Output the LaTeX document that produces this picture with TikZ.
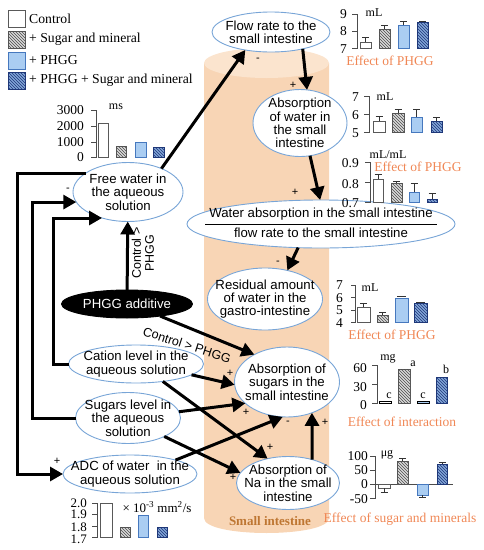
\documentclass[tikz,border=0pt]{standalone}
\usepackage{fontspec}
\setmainfont{Liberation Serif}
\setsansfont{Liberation Sans}
\usetikzlibrary{arrows.meta,patterns,shapes.geometric}
\definecolor{bubline}{RGB}{120,165,215}
\definecolor{cylbody}{RGB}{248,213,181}
\definecolor{cyltop}{RGB}{251,228,206}
\definecolor{effcol}{RGB}{240,135,85}
\definecolor{sicol}{RGB}{190,118,50}
\definecolor{phfill}{RGB}{170,205,242}
\definecolor{phedge}{RGB}{70,120,190}
\definecolor{phsfill}{RGB}{130,165,215}
\definecolor{phsline}{RGB}{30,55,120}
\setlength{\arrayrulewidth}{0.9pt}
\renewcommand{\arraystretch}{1.4}
\tikzset{
    bub/.style={ellipse, draw=bubline, line width=0.9pt, fill=white,
    	inner sep=-20pt, outer sep=0pt, align=center,
    	font=\sffamily\fontsize{13.2}{13.4}\selectfont}
}
\tikzset{
    blackbub/.style={bub, draw=black, fill=black, text=white}
}
\tikzset{
    conn/.style={line width=3pt, -{Triangle[length=13pt,width=14pt]}}
}
\tikzset{
    sign/.style={font=\sffamily\fontsize{11}{11}\selectfont, inner sep=0pt},
    ticklab/.style={anchor=east, inner sep=0pt, font=\fontsize{13.5}{13.5}\selectfont},
    unit/.style={inner sep=0pt, font=\fontsize{12}{12}\selectfont},
    effect/.style={inner sep=0pt, text=effcol, font=\fontsize{13.5}{13.5}\selectfont},
    legtext/.style={anchor=west, inner sep=0pt, font=\fontsize{13.7}{13.7}\selectfont},
    axisline/.style={draw=gray!60!black, line width=0.7pt},
    errbar/.style={draw=gray!40!black, line width=0.7pt},
    ctrlbar/.style={draw=gray!70!black, line width=0.7pt, fill=white},
    sugbar/.style={draw=gray!70!black, line width=0.7pt, fill=gray!30,
    	postaction={pattern=north west lines, pattern color=gray!60!black}},
    phbar/.style={draw=phedge, line width=0.7pt, fill=phfill},
    phsbar/.style={draw=phsline, line width=0.7pt, fill=phsfill,
    	postaction={pattern=north west lines, pattern color=phsline}}
}

\begin{document}
\begin{tikzpicture}[x=1pt, y=-1pt]
	\useasboundingbox (0,0) rectangle (484,550);
	% small intestine
	\fill[cylbody] (204,63) -- (204,518) .. controls (204,538) and (329,538) .. (329,518) -- (329,63) -- cycle;
	\fill[cyltop] (266.5,63) ellipse [x radius=62.5, y radius=15];
	\node (si) [inner sep=0pt, text=sicol, font=\bfseries\fontsize{13}{13}\selectfont] at (270,521) {Small intestine};

	% legend
	\draw[ctrlbar] (8,10) rectangle (25,27); \node (lctrl) [legtext] at (29,18.5) {Control};
	\draw[sugbar] (8,31) rectangle (25,48); \node (lsug) [legtext] at (29,39.5) {+ Sugar and mineral};
	\draw[phbar] (8,52) rectangle (25,69); \node (lph) [legtext] at (29,60.5) {+ PHGG};
	\draw[phsbar] (8,72) rectangle (25,89); \node (lphs) [legtext] at (29,80.5) {+ PHGG + Sugar and mineral};

	% nodes
	\node (fw) [bub, minimum width=110pt, minimum height=59pt] at (128,192) {Free water in\\the aqueous\\solution};
	\node (ph) [blackbub, minimum width=131pt, minimum height=28pt] at (127,304) {PHGG additive};
	\node (flow) [bub, minimum width=118pt, minimum height=40pt] at (271,32) {Flow rate to the\\small intestine};
	\node (aw) [bub, minimum width=94pt, minimum height=67pt] at (300,123) {Absorption\\of water in\\the small\\intestine};
	\node (rat) [bub, minimum width=268pt, minimum height=48pt, inner xsep=-30pt] at (321,224) {\begin{tabular}{@{\hspace{4pt}}c@{\hspace{4pt}}}Water absorption in the small intestine\\\hline flow rate to the small intestine\end{tabular}};
	\node (res) [bub, minimum width=115pt, minimum height=62pt] at (265,299) {Residual amount\\of water in the\\gastro-intestine};
	\node (sabs) [bub, minimum width=105pt, minimum height=70pt] at (287,382) {Absorption of\\sugars in the\\small intestine};
	\node (na) [bub, minimum width=103pt, minimum height=53pt] at (288,483) {Absorption of\\Na in the small\\intestine};
	\node (cat) [bub, minimum width=135pt, minimum height=38pt] at (136,364) {Cation level in the\\aqueous solution};
	\node (slv) [bub, minimum width=105pt, minimum height=51pt] at (128,418) {Sugars level in\\the aqueous\\solution};
	\node (adc) [bub, minimum width=134pt, minimum height=38pt] at (130,474) {ADC of water\ \ in the\\aqueous solution};

	% connectors
	\draw[conn] (fw.35) -- (flow.215);
	\draw[conn] (flow.-28) -- (aw.78);
	\draw[conn] (aw.-73) -- (rat.92);
	\draw[conn] (rat.-134) -- (res.52);
	\draw[conn] (ph) -- (fw);
	\draw[conn] (ph.-20) -- (sabs.140);
	\draw[conn] (cat.-11) -- (sabs.183);
	\draw[conn] (cat.-33) -- (na.130);
	\draw[conn] (slv.7) -- (sabs.207);
	\draw[conn] (slv.-27) -- (na.168);
	\draw[conn] (adc.17) -- (sabs.263);
	\draw[conn] (na.44) -- (sabs.-51);
	\draw[conn] (fw.156) -- ++(-68,0) |- (adc.west);
	\draw[conn] (slv.west) -- ++(-43.5,0) |- (fw.191);
	\draw[conn] (cat.west) -- ++(-15.5,0) |- (fw.225);

	\node (ctl1) [align=center, rotate=90, inner sep=0pt, font=\sffamily\fontsize{12.5}{13}\selectfont] at (143,253) {Control >\\PHGG};
	\node (ctl2) [rotate=-18, inner sep=0pt, font=\sffamily\fontsize{12.5}{13}\selectfont] at (187,345) {Control > PHGG};

	% signs
	\node (s1) [sign] at (258,60) {-};
	\node (s2) [sign] at (293,85) {+};
	\node (s3) [sign] at (295,192) {+};
	\node (s4) [sign] at (278,263) {-};
	\node (s5) [sign] at (68,190) {-};
	\node (s6) [sign] at (93,222) {-};
	\node (s7) [sign] at (57,461) {+};
	\node (s8) [sign] at (230,373) {+};
	\node (s9) [sign] at (246,412) {+};
	\node (s10) [sign] at (288,423) {-};
	\node (s11) [sign] at (270,447) {+};
	\node (s12) [sign] at (233,477) {+};
	\node (s13) [sign] at (325,422) {+};

	% chart: free water
	\node (aunit) [unit] at (116,107) {ms};
	\node (a3000) [ticklab] at (84,110) {3000};
	\node (a2000) [ticklab] at (84,126) {2000};
	\node (a1000) [ticklab] at (84,142) {1000};
	\node (a0) [ticklab] at (84,157) {0};
	\draw[axisline] (91,110) -- (96,110) -- (96,157) -- (91,157) (91,126) -- (96,126) (91,142) -- (96,142);
	\draw[ctrlbar] (98,157) rectangle (108,123);
	\draw[sugbar] (116,157) rectangle (126,146);
	\draw[phbar] (135,157) rectangle (146,142);
	\draw[phsbar] (153,157) rectangle (164,147);

	% chart: flow rate
	\node (bunit) [unit] at (374,13) {mL};
	\node (b9) [ticklab] at (347,14) {9};
	\node (b8) [ticklab] at (347,31.5) {8};
	\node (b7) [ticklab] at (347,49) {7};
	\draw[axisline] (352,14) -- (357,14) -- (357,48) -- (352,48) (352,31) -- (357,31);
	\draw[ctrlbar] (360,48) rectangle (371,42); \draw[errbar] (365.5,42) -- (365.5,37) (362,37) -- (369,37);
	\draw[sugbar] (379,48) rectangle (390,29); \draw[errbar] (384.5,29) -- (384.5,25) (381,25) -- (388,25);
	\draw[phbar] (398,48) rectangle (409,25); \draw[errbar] (403.5,25) -- (403.5,21) (400,21) -- (407,21);
	\draw[phsbar] (417,48) rectangle (428,22); \draw[errbar] (419,21.5) -- (426,21.5);
	\node (beff) [effect] at (390,61) {Effect of PHGG};

	% chart: absorption of water
	\node (cunit) [unit] at (385,97) {mL};
	\node (c7) [ticklab] at (359,97) {7};
	\node (c6) [ticklab] at (359,115) {6};
	\node (c5) [ticklab] at (359,133) {5};
	\draw[axisline] (364,96) -- (369,96) -- (369,132) -- (364,132) (364,114) -- (369,114);
	\draw[ctrlbar] (373,132) rectangle (385,121); \draw[errbar] (379,121) -- (379,116) (375.5,116) -- (382.5,116);
	\draw[sugbar] (392,132) rectangle (404,113); \draw[errbar] (398,113) -- (398,109) (394.5,109) -- (401.5,109);
	\draw[phbar] (411,132) rectangle (422,117); \draw[errbar] (416.5,117) -- (416.5,109) (413,109) -- (420,109);
	\draw[phsbar] (431,132) rectangle (442,121); \draw[errbar] (436.5,121) -- (436.5,117) (433,117) -- (440,117);

	% chart: ratio
	\node (dunit) [unit] at (388,155) {mL/mL};
	\node (deff) [effect] at (418,167) {Effect of PHGG};
	\node (d9) [ticklab] at (359,163) {0.9};
	\node (d8) [ticklab] at (359,184) {0.8};
	\node (d7) [ticklab] at (359,203) {0.7};
	\draw[axisline] (365,162) -- (370,162) -- (370,202) -- (365,202) (365,182) -- (370,182);
	\draw[ctrlbar] (373,202) rectangle (383,179); \draw[errbar] (378,179) -- (378,174) (374.5,174) -- (381.5,174);
	\draw[sugbar] (391,202) rectangle (402,183); \draw[errbar] (396.5,183) -- (396.5,181) (393,181) -- (400,181);
	\draw[phbar] (409,202) rectangle (419,192); \draw[errbar] (414,192) -- (414,183) (410.5,183) -- (417.5,183);
	\draw[phsbar] (427,202) rectangle (437,199); \draw[errbar] (432,199) -- (432,193) (428.5,193) -- (435.5,193);

	% chart: residual water
	\node (eunit) [unit] at (370,288) {mL};
	\node (e7) [ticklab] at (343,285) {7};
	\node (e6) [ticklab] at (343,298) {6};
	\node (e5) [ticklab] at (343,310) {5};
	\node (e4) [ticklab] at (343,323) {4};
	\draw[axisline] (351,285) -- (355,285) -- (355,322) -- (351,322) (351,297) -- (355,297) (351,310) -- (355,310);
	\draw[ctrlbar] (357,322) rectangle (370,307); \draw[errbar] (363.5,307) -- (363.5,303) (360,303) -- (367,303);
	\draw[sugbar] (377,322) rectangle (388,315); \draw[errbar] (382.5,315) -- (382.5,312) (379,312) -- (386,312);
	\draw[phbar] (395,322) rectangle (408,298); \draw[errbar] (397,296.5) -- (406,296.5);
	\draw[phsbar] (414,322) rectangle (427,303); \draw[errbar] (416,302) -- (425,302);
	\node (eeff) [effect] at (392,335) {Effect of PHGG};

	% chart: sugars absorption
	\node (funit) [unit] at (388,359) {mg};
	\node (f60) [ticklab] at (367,368) {60};
	\node (f30) [ticklab] at (367,387) {30};
	\node (f0) [ticklab] at (367,405) {0};
	\draw[axisline] (372,365) -- (377,365) -- (377,403) -- (372,403) (372,384) -- (377,384);
	\draw[ctrlbar, draw=black] (379,403) rectangle (391,401.8);
	\draw[sugbar] (398,403) rectangle (410,369);
	\draw[phbar, draw=black] (417,403) rectangle (429,401.8);
	\draw[phsbar] (436,403) rectangle (447,377);
	\node (fc1) [unit] at (389,396) {c};
	\node (fa) [unit] at (413,364) {a};
	\node (fc2) [unit] at (423,396) {c};
	\node (fb) [unit] at (446,369) {b};
	\node (feff) [effect] at (402,422) {Effect of interaction};

	% chart: Na absorption
	\node (gunit) [unit] at (387,455) {μg};
	\node (g100) [ticklab] at (368,456) {100};
	\node (g50) [ticklab] at (368,470) {50};
	\node (g0) [ticklab] at (368,484) {0};
	\node (gm50) [ticklab] at (368,499) {-50};
	\draw[axisline] (370,456) -- (375,456) -- (375,498) -- (370,498) (370,470) -- (375,470) (370,484) -- (453,484);
	\draw[ctrlbar] (378,484) rectangle (390,488); \draw[errbar] (384,488) -- (384,492) (380.5,492) -- (387.5,492);
	\draw[sugbar] (397,484) rectangle (408,461); \draw[errbar] (402.5,461) -- (402.5,458) (399,458) -- (406,458);
	\draw[phbar] (417,484) rectangle (428,495); \draw[errbar] (422.5,495) -- (422.5,497) (419,497) -- (426,497);
	\draw[phsbar] (437,484) rectangle (447,464); \draw[errbar] (442,464) -- (442,462) (438.5,462) -- (445.5,462);
	\node (geff) [effect] at (400,519) {Effect of sugar and minerals};

	% chart: ADC
	\node (hunit) [unit, font=\fontsize{13}{13}\selectfont] at (157,507) {× 10\textsuperscript{-3} mm\textsuperscript{2}/s};
	\node (h20) [ticklab, font=\fontsize{13}{13}\selectfont] at (87,503) {2.0};
	\node (h19) [ticklab, font=\fontsize{13}{13}\selectfont] at (87,514) {1.9};
	\node (h18) [ticklab, font=\fontsize{13}{13}\selectfont] at (87,527) {1.8};
	\node (h17) [ticklab, font=\fontsize{13}{13}\selectfont] at (87,539) {1.7};
	\draw[axisline] (92,503) -- (97,503) -- (97,537) -- (92,537) (92,514) -- (97,514) (92,526) -- (97,526);
	\draw[ctrlbar] (100,537) rectangle (112,503);
	\draw[sugbar] (120,537) rectangle (130,527);
	\draw[phbar] (138,537) rectangle (148,515);
	\draw[phsbar] (157,537) rectangle (167,527);
\end{tikzpicture}
\end{document}
